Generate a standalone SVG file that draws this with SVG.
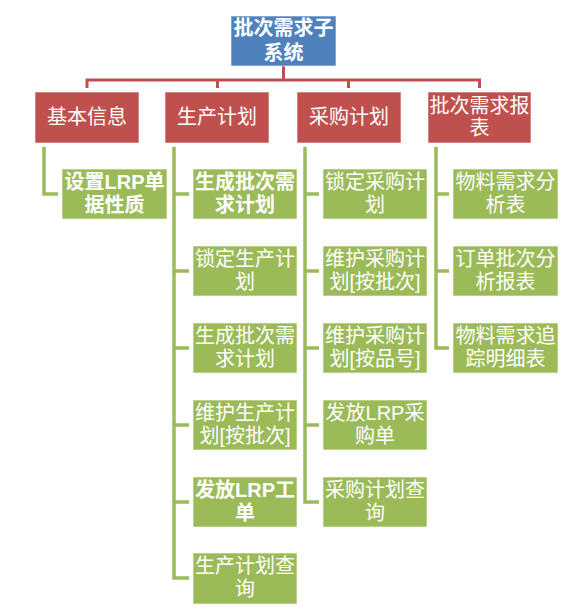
<svg xmlns="http://www.w3.org/2000/svg" width="585" height="616" viewBox="0 0 585 616">
<style>
text{font-family:"Liberation Sans","Noto Sans CJK SC",sans-serif;font-size:20px;fill:#fff;text-anchor:middle}
.b{font-weight:bold}
.root{fill:#4F81BD;stroke:#fff;stroke-opacity:.6;stroke-width:1}
.l1{fill:#C0504D;stroke:#fff;stroke-opacity:.6;stroke-width:1}
.l2{fill:#9BBB59;stroke:#fff;stroke-opacity:.6;stroke-width:1}
.cr{fill:none;stroke:#C0504D;stroke-width:3}
.cg{fill:none;stroke:#9BBB59;stroke-width:3.5}
</style>
<rect width="585" height="616" fill="#fff"/>
<g id="connectors">
<path class="cr" d="M283.5 66V80M87 88V80H479.5V88M217.5 80V88M348.5 80V88"/>
<path class="cg" d="M44 147V194H58"/>
<path class="cg" d="M174 147V578H189M174 194H189M174 271H189M174 348H189M174 425H189M174 502H189"/>
<path class="cg" d="M305 147V502H319M305 194H319M305 271H319M305 348H319M305 425H319"/>
<path class="cg" d="M436 147V348H449M436 194H449M436 271H449"/>
</g>
<g id="root"><rect class="root" x="231" y="16" width="105" height="50"/><text class="b" x="283.5" y="34.5">批次需求子</text><text class="b" x="283.5" y="59.5">系统</text></g>
<g id="n-jbxx"><rect class="l1" x="35" y="92" width="104" height="51"/><text x="87" y="124">基本信息</text></g>
<g id="n-scjh"><rect class="l1" x="165" y="92" width="104" height="51"/><text x="217" y="124">生产计划</text></g>
<g id="n-cgjh"><rect class="l1" x="297" y="92" width="104" height="51"/><text x="349" y="124">采购计划</text></g>
<g id="n-pcxqbb"><rect class="l1" x="428" y="92" width="103" height="51"/><text x="479.5" y="113">批次需求报</text><text x="479.5" y="135">表</text></g>
<g id="n-c1-1"><rect class="l2" x="62" y="169" width="105" height="50"/><text class="b" x="114.5" y="189">设置LRP单</text><text class="b" x="114.5" y="212">据性质</text></g>
<g id="n-c2-1"><rect class="l2" x="193" y="169" width="104" height="50"/><text class="b" x="245" y="189">生成批次需</text><text class="b" x="245" y="212">求计划</text></g>
<g id="n-c2-2"><rect class="l2" x="193" y="246" width="104" height="50"/><text x="245" y="266">锁定生产计</text><text x="245" y="289">划</text></g>
<g id="n-c2-3"><rect class="l2" x="193" y="323" width="104" height="50"/><text x="245" y="343">生成批次需</text><text x="245" y="366">求计划</text></g>
<g id="n-c2-4"><rect class="l2" x="193" y="400" width="104" height="50"/><text x="245" y="420">维护生产计</text><text x="245" y="443">划[按批次]</text></g>
<g id="n-c2-5"><rect class="l2" x="193" y="477" width="104" height="50"/><text class="b" x="245" y="497">发放LRP工</text><text class="b" x="245" y="520">单</text></g>
<g id="n-c2-6"><rect class="l2" x="193" y="553" width="104" height="51"/><text x="245" y="573">生产计划查</text><text x="245" y="596">询</text></g>
<g id="n-c3-1"><rect class="l2" x="323" y="169" width="104" height="50"/><text x="375" y="189">锁定采购计</text><text x="375" y="212">划</text></g>
<g id="n-c3-2"><rect class="l2" x="323" y="246" width="104" height="50"/><text x="375" y="266">维护采购计</text><text x="375" y="289">划[按批次]</text></g>
<g id="n-c3-3"><rect class="l2" x="323" y="323" width="104" height="50"/><text x="375" y="343">维护采购计</text><text x="375" y="366">划[按品号]</text></g>
<g id="n-c3-4"><rect class="l2" x="323" y="400" width="104" height="50"/><text x="375" y="420">发放LRP采</text><text x="375" y="443">购单</text></g>
<g id="n-c3-5"><rect class="l2" x="323" y="477" width="104" height="50"/><text x="375" y="497">采购计划查</text><text x="375" y="520">询</text></g>
<g id="n-c4-1"><rect class="l2" x="453" y="169" width="105" height="50"/><text x="505.5" y="189">物料需求分</text><text x="505.5" y="212">析表</text></g>
<g id="n-c4-2"><rect class="l2" x="453" y="246" width="105" height="50"/><text x="505.5" y="266">订单批次分</text><text x="505.5" y="289">析报表</text></g>
<g id="n-c4-3"><rect class="l2" x="453" y="323" width="105" height="50"/><text x="505.5" y="343">物料需求追</text><text x="505.5" y="366">踪明细表</text></g>
</svg>
